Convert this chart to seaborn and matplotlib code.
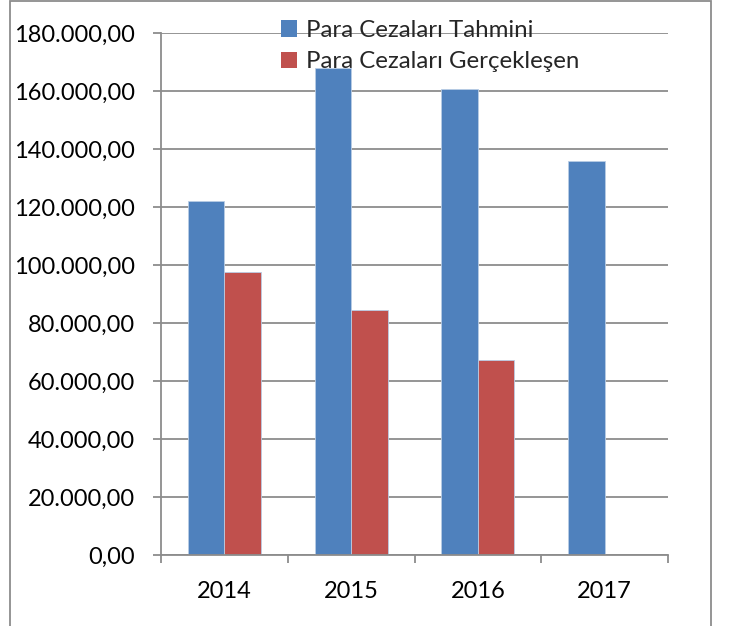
import matplotlib
matplotlib.use('Agg')
import matplotlib.pyplot as plt
import seaborn as sns
import pandas as pd
import numpy as np
from matplotlib.patches import Patch, Rectangle
from matplotlib.ticker import FuncFormatter, FixedLocator

years = ['2014', '2015', '2016', '2017']
tahmini = [122000, 168000, 160600, 136000]
gerceklesen = [97700, 84400, 67100, np.nan]
series = ['Para Cezaları Tahmini', 'Para Cezaları Gerçekleşen']
colors = ['#4F81BD', '#C0504D']
yticks = [0, 20000, 40000, 60000, 80000, 100000, 120000, 140000, 160000, 180000]

df = pd.DataFrame({
    'Yıl': years * 2,
    'Değer': tahmini + gerceklesen,
    'Seri': [series[0]] * len(years) + [series[1]] * len(years),
})

sns.set_theme(style='white')
plt.rcParams['font.family'] = ['Lato', 'DejaVu Sans']

W, H = 739, 626
fig = plt.figure(figsize=(W / 100, H / 100), dpi=100)
fig.patch.set_facecolor('white')
ax = fig.add_axes([161 / W, 1 - 555 / H, (668 - 161) / W, (555 - 33) / H])

sns.barplot(data=df, x='Yıl', y='Değer', hue='Seri', hue_order=series,
            palette=colors, width=0.575, saturation=1, ax=ax,
            edgecolor='#b9cde5', linewidth=0.6, legend=False, errorbar=None)

grid_c = '#8c8c8c'
ax.set_xlim(-0.5, len(years) - 0.5)
ax.set_ylim(0, 180000)
ax.set_yticks(yticks)
ax.yaxis.set_major_formatter(FuncFormatter(
    lambda v, p: f"{v:,.2f}".replace(',', 'X').replace('.', ',').replace('X', '.')))
ax.set_axisbelow(True)
ax.yaxis.grid(True, color=grid_c, linewidth=1.3)
ax.xaxis.grid(False)
for s in ['top', 'right']:
    ax.spines[s].set_visible(False)
for s in ['left', 'bottom']:
    ax.spines[s].set_color(grid_c)
    ax.spines[s].set_linewidth(1.3)

ax.xaxis.set_minor_locator(FixedLocator(np.arange(-0.5, len(years), 1.0)))
ax.tick_params(axis='x', which='major', length=0, pad=19, labelsize=17, labelcolor='black')
ax.tick_params(axis='x', which='minor', length=6, width=1.3, color=grid_c, direction='out', bottom=True)
ax.tick_params(axis='y', which='major', length=6, width=1.3, color=grid_c, direction='out',
               left=True, pad=13, labelsize=17, labelcolor='black')
ax.set_xlabel('')
ax.set_ylabel('')

handles = [Patch(facecolor=c, edgecolor='none') for c in colors]
fig.legend(handles=handles, labels=series, loc='upper left',
           bbox_to_anchor=(281 / W, 1 - 20 / H), frameon=False,
           fontsize=17.3, handlelength=0.66, handleheight=0.66,
           handletextpad=0.36, labelspacing=0.42, borderpad=0, borderaxespad=0)

fig.add_artist(Rectangle((10 / W, -0.02), (711 - 10) / W, 1.02 - 1 / H,
                         transform=fig.transFigure, fill=False,
                         edgecolor=grid_c, linewidth=1.3))

fig.savefig('out.png', dpi=100)
